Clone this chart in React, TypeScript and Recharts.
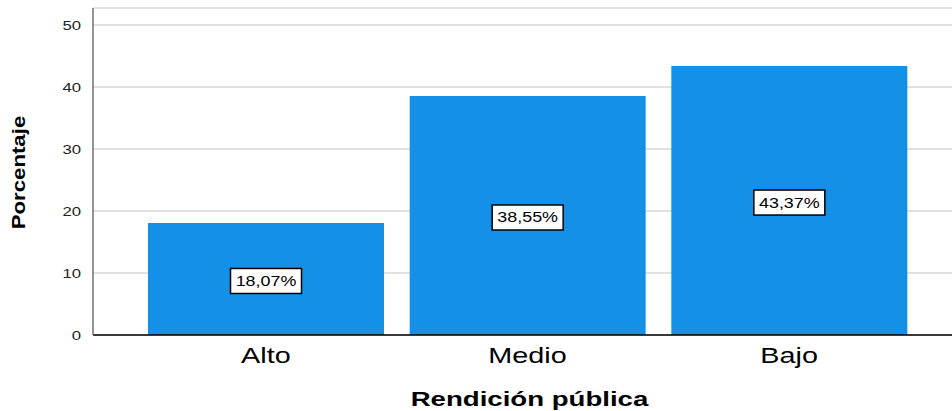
import React from 'react';
import {
  BarChart,
  Bar,
  XAxis,
  YAxis,
  CartesianGrid,
  LabelList,
} from 'recharts';

// Data
const categories = ['Alto', 'Medio', 'Bajo'];
const percentages = [18.07, 38.55, 43.37];
const yTicks = [0, 10, 20, 30, 40, 50];

const BAR_COLOR = '#1490e6';
const FONT = 'Arial, "Liberation Sans", Helvetica, sans-serif';

const data = categories.map((name, i) => ({ name, value: percentages[i] }));

const formatPct = (v: number) => `${v.toFixed(2).replace('.', ',')}%`;

// text widened horizontally, like the reference rendering
const Wide = ({ x, y, sx = 1.28, rotate = 0, children, ...rest }: any) => (
  <text
    transform={`translate(${x},${y}) rotate(${rotate}) scale(${sx},1)`}
    x={0}
    y={0}
    fontFamily={FONT}
    fill="#000"
    {...rest}
  >
    {children}
  </text>
);

const BoxLabel = (props: any) => {
  const { x, y, width, height, value } = props;
  const cx = x + width / 2;
  const cy = y + height / 2 + 2;
  const w = 71;
  const h = 25;
  return (
    <g>
      <rect
        x={cx - w / 2}
        y={cy - h / 2}
        width={w}
        height={h}
        fill="#fff"
        stroke="#000"
        strokeWidth={1.5}
      />
      <Wide x={cx} y={cy + 5} sx={1.28} textAnchor="middle" fontSize={14}>
        {formatPct(value)}
      </Wide>
    </g>
  );
};

const XTick = (props: any) => {
  const { x, y, payload } = props;
  return (
    <Wide x={x} y={y + 28} sx={1.28} textAnchor="middle" fontSize={22.5}>
      {payload.value}
    </Wide>
  );
};

const YTick = (props: any) => {
  const { x, y, payload } = props;
  return (
    <Wide x={x} y={y + 5} sx={1.24} textAnchor="end" fontSize={13.5} fill="#222">
      {payload.value}
    </Wide>
  );
};

const XTitle = (props: any) => {
  const { viewBox } = props;
  return (
    <Wide
      x={viewBox.x + viewBox.width / 2 + 2}
      y={viewBox.y + 71}
      sx={1.38}
      textAnchor="middle"
      fontSize={20}
      fontWeight="bold"
    >
      Rendición pública
    </Wide>
  );
};

const YTitle = (props: any) => {
  const { viewBox } = props;
  return (
    <Wide
      x={viewBox.x - 8}
      y={viewBox.y + viewBox.height / 2 + 1}
      rotate={-90}
      sx={1.2}
      textAnchor="middle"
      fontSize={18.5}
      fontWeight="bold"
    >
      Porcentaje
    </Wide>
  );
};

export default function App() {
  return (
    <div
      style={{
        position: 'absolute',
        left: 0,
        top: 0,
        width: 952,
        height: 411,
        overflow: 'hidden',
        background: '#fff',
      }}
    >
      <BarChart
        width={972}
        height={411}
        data={data}
        margin={{ top: 8, right: 10, bottom: 0, left: 33 }}
        barSize={236}
      >
        <CartesianGrid vertical={false} stroke="#c4c4c4" strokeWidth={1.2} />
        <XAxis
          dataKey="name"
          height={76}
          padding={{ left: 42, right: 42 }}
          axisLine={{ stroke: '#000', strokeWidth: 1.5 }}
          tickLine={false}
          tickSize={0}
          tickMargin={0}
          tick={<XTick />}
          label={<XTitle />}
        />
        <YAxis
          width={60}
          domain={[0, 52.74]}
          ticks={yTicks}
          allowDataOverflow
          axisLine={{ stroke: '#707070', strokeWidth: 1.5 }}
          tickLine={false}
          tickSize={0}
          tickMargin={12}
          tick={<YTick />}
          label={<YTitle />}
        />
        <Bar dataKey="value" fill={BAR_COLOR} isAnimationActive={false}>
          <LabelList dataKey="value" content={<BoxLabel />} />
        </Bar>
      </BarChart>
    </div>
  );
}
